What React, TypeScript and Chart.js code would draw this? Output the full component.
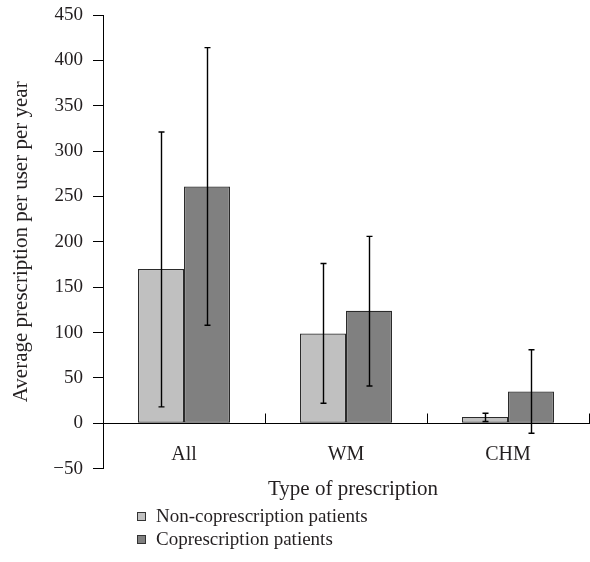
import { useEffect, useRef } from 'react';
import { Chart, registerables } from 'chart.js';

Chart.register(...registerables);

const categories = ['All', 'WM', 'CHM'];
const seriesLabels = ['Non-coprescription patients', 'Coprescription patients'];
const nonCoValues = [170, 99, 7];
const nonCoErrLow = [18, 22, 2];
const nonCoErrHigh = [321, 176, 11];
const coValues = [261, 124, 35];
const coErrLow = [108, 41, -11];
const coErrHigh = [414, 206, 81];
const yMin = -50;
const yMax = 450;
const yStep = 50;
const xTitle = 'Type of prescription';
const yTitle = 'Average prescription per user per year';

const FONT = '"Liberation Serif", "Times New Roman", serif';
const TEXT = '#231f20';

const errorBarPlugin = {
  id: 'errorBars',
  afterDatasetsDraw(chart: any) {
    const ctx = chart.ctx;
    const ys = chart.scales.y;
    chart.data.datasets.forEach((ds: any, di: number) => {
      const meta = chart.getDatasetMeta(di);
      meta.data.forEach((bar: any, i: number) => {
        const x = Math.round(bar.x) + 0.5;
        const lo = ys.getPixelForValue(ds.errLow[i]);
        const hi = ys.getPixelForValue(ds.errHigh[i]);
        ctx.save();
        ctx.strokeStyle = '#000';
        ctx.lineWidth = 1.4;
        ctx.beginPath();
        ctx.moveTo(x, lo);
        ctx.lineTo(x, hi);
        ctx.moveTo(x - 3, lo);
        ctx.lineTo(x + 3, lo);
        ctx.moveTo(x - 3, hi);
        ctx.lineTo(x + 3, hi);
        ctx.stroke();
        ctx.restore();
      });
    });
  },
};

const extrasPlugin = {
  id: 'extras',
  afterDraw(chart: any) {
    const ctx = chart.ctx;
    const xs = chart.scales.x;
    const ys = chart.scales.y;
    const area = chart.chartArea;
    const y0 = Math.round(ys.getPixelForValue(0)) + 0.5;
    const n = categories.length;
    const half = (xs.right - xs.left) / n / 2;
    ctx.save();
    ctx.strokeStyle = '#000';
    ctx.lineWidth = 1;
    ctx.beginPath();
    for (let i = 0; i < n; i++) {
      const xb = Math.min(Math.round(xs.getPixelForValue(i) + half) + 0.5, chart.width - 0.5);
      ctx.moveTo(xb, y0 - 10);
      ctx.lineTo(xb, y0);
    }
    ctx.stroke();

    // x axis title
    ctx.fillStyle = TEXT;
    ctx.font = `21px ${FONT}`;
    ctx.textAlign = 'center';
    ctx.textBaseline = 'alphabetic';
    ctx.fillText(xTitle, (area.left + area.right) / 2 + 7, 495);

    // legend
    ctx.font = `19px ${FONT}`;
    ctx.textAlign = 'left';
    chart.data.datasets.forEach((ds: any, di: number) => {
      const base = 522 + di * 23;
      ctx.fillStyle = ds.backgroundColor;
      ctx.strokeStyle = '#333';
      ctx.lineWidth = 1;
      ctx.fillRect(137.5, base - 9.5, 8, 8);
      ctx.strokeRect(137.5, base - 9.5, 8, 8);
      ctx.fillStyle = TEXT;
      ctx.fillText(ds.label, 156, base);
    });
    ctx.restore();
  },
};

export default function App() {
  const ref = useRef<HTMLCanvasElement>(null);
  useEffect(() => {
    document.body.style.margin = '0';
    const chart = new Chart(ref.current as HTMLCanvasElement, {
      type: 'bar',
      data: {
        labels: categories,
        datasets: [
          {
            label: seriesLabels[0],
            data: nonCoValues,
            errLow: nonCoErrLow,
            errHigh: nonCoErrHigh,
            backgroundColor: '#c0c0c0',
            borderColor: '#2b2b2b',
            borderWidth: 1.2,
            borderSkipped: false,
          } as any,
          {
            label: seriesLabels[1],
            data: coValues,
            errLow: coErrLow,
            errHigh: coErrHigh,
            backgroundColor: '#808080',
            borderColor: '#2b2b2b',
            borderWidth: 1.2,
            borderSkipped: false,
          } as any,
        ],
      },
      options: {
        responsive: false,
        animation: false,
        layout: { padding: { top: 15, left: 0, right: 1, bottom: 93.4 } },
        datasets: { bar: { categoryPercentage: 0.568, barPercentage: 1 } },
        plugins: {
          legend: { display: false },
          tooltip: { enabled: false },
        },
        scales: {
          x: {
            position: { y: 0 } as any,
            grid: { display: false, drawTicks: false },
            border: { display: true, color: '#000', width: 1 },
            ticks: { color: TEXT, font: { family: FONT, size: 20 }, padding: 20 },
          },
          y: {
            min: yMin,
            max: yMax,
            afterFit: (scale: any) => {
              scale.width = 103;
              scale.paddingTop = 0;
              scale.paddingBottom = 0;
            },
            ticks: {
              stepSize: yStep,
              color: TEXT,
              font: { family: FONT, size: 19 },
              padding: 10,
              callback: (v: any) => (v < 0 ? '\u2212' + Math.abs(v) : String(v)),
            },
            grid: { drawOnChartArea: false, drawTicks: true, tickLength: 10, tickColor: '#000' },
            border: { display: true, color: '#000', width: 1 },
            title: {
              display: true,
              text: yTitle,
              color: TEXT,
              font: { family: FONT, size: 21 },
              padding: { top: 9, bottom: 0 },
            },
          },
        },
      },
      plugins: [errorBarPlugin, extrasPlugin],
    });
    return () => chart.destroy();
  }, []);
  return <canvas ref={ref} width={590} height={562} style={{ display: 'block' }} />;
}
